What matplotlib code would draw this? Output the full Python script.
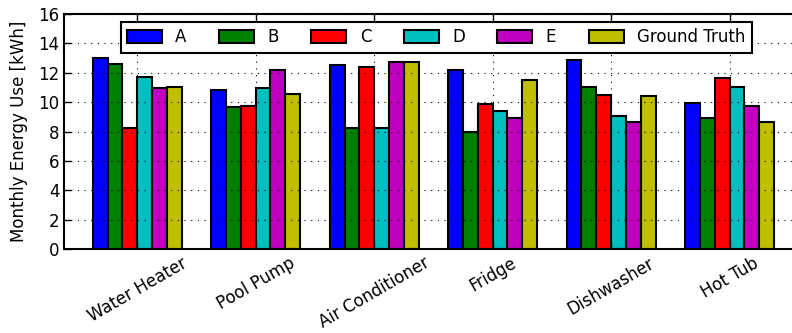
import numpy as np
import matplotlib
matplotlib.use("Agg")
import matplotlib.pyplot as plt

# appliance categories and per-method monthly energy estimates (kWh)
appliances = ["Water Heater", "Pool Pump", "Air Conditioner", "Fridge", "Dishwasher", "Hot Tub"]
series_names = ["A", "B", "C", "D", "E", "Ground Truth"]
vals_a = [13.0, 10.8, 12.5, 12.2, 12.9, 9.95]
vals_b = [12.6, 9.67, 8.26, 7.97, 11.05, 8.95]
vals_c = [8.25, 9.72, 12.36, 9.86, 10.5, 11.65]
vals_d = [11.7, 10.97, 8.26, 9.38, 9.08, 11.0]
vals_e = [10.95, 12.18, 12.72, 8.95, 8.63, 9.72]
vals_gt = [11.04, 10.54, 12.72, 11.54, 10.42, 8.63]
colors = ["#0000ff", "#008000", "#ff0000", "#00bfbf", "#bf00bf", "#bfbf00"]

all_vals = [vals_a, vals_b, vals_c, vals_d, vals_e, vals_gt]

plt.rcParams['font.family'] = ['DejaVu Sans']
plt.rcParams['xtick.direction'] = 'in'
plt.rcParams['ytick.direction'] = 'in'

fig = plt.figure(figsize=(7.92, 3.33), dpi=100)
# axes runs slightly past the right edge, as in the cropped original
ax = fig.add_axes([0.081, 0.252, 0.93, 0.706])

x = np.arange(len(appliances))
width = 0.125
for i, (name, vals) in enumerate(zip(series_names, all_vals)):
    ax.bar(x + (i - 2.5) * width, vals, width, color=colors[i], edgecolor="black",
           linewidth=1.5, label=name, zorder=2)

ax.set_xlim(-0.616, 5.6)
ax.set_ylim(0, 16)
ax.set_yticks(range(0, 17, 2))
ax.set_xticks(x)
ax.set_xticklabels(appliances, rotation=30, ha="center", fontsize=12)
ax.tick_params(axis="y", labelsize=12)
ax.tick_params(top=True, right=True, length=5, width=1)
ax.set_ylabel("Monthly Energy Use [kWh]", fontsize=12, labelpad=7)
# classic look: dotted grid drawn on top of the bars
ax.grid(True, color="black", linestyle=(0, (1, 5)), linewidth=0.8, zorder=2.5)
ax.set_axisbelow(False)
for s in ax.spines.values():
    s.set_linewidth(1.5)

leg = ax.legend(loc="upper left", bbox_to_anchor=(0.0767, 0.966), borderaxespad=0,
                ncol=6, fontsize=12, fancybox=False, edgecolor="black", framealpha=1,
                handlelength=2.1, handleheight=0.8, columnspacing=1.95,
                borderpad=0.38, handletextpad=0.8)
leg.get_frame().set_linewidth(1.5)
leg.set_zorder(5)

fig.savefig("out.png", dpi=100)
